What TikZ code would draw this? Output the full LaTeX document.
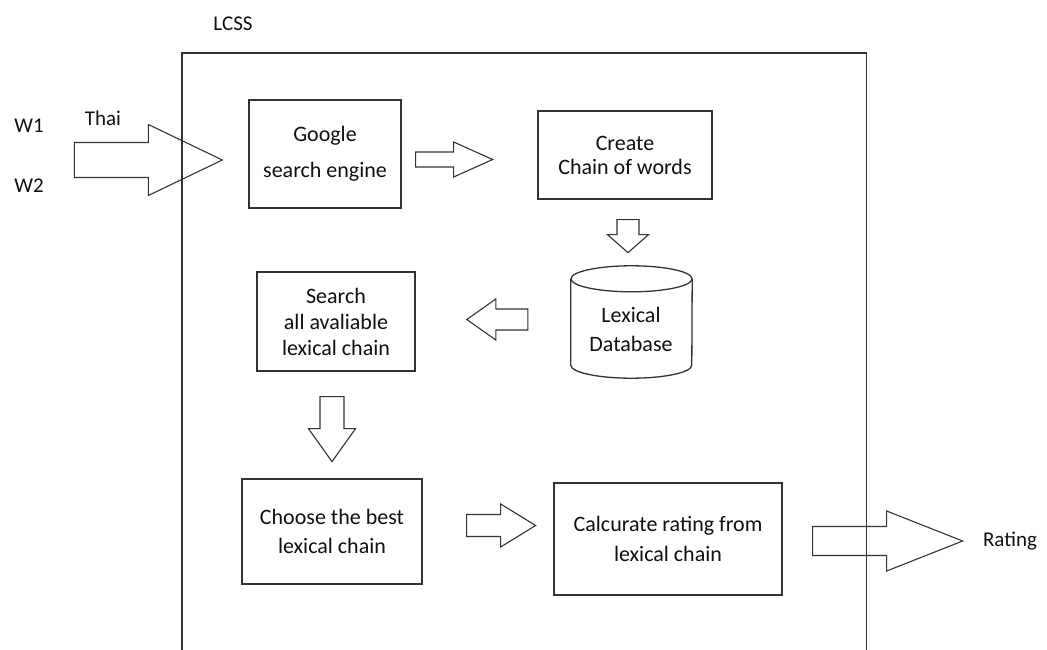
\documentclass[tikz,border=0pt]{standalone}
\usepackage{fontspec}
\setmainfont{Carlito}
\usetikzlibrary{calc}

% Block arrows: #1 tail point, #2 total length, #3 head length,
% #4 half shaft width, #5 half head width
\newcommand\blockright[5]{%
  \draw[blockarrow] (#1) ++(0,-#4) -- ++({#2-#3},0) -- ++(0,{#4-#5})
    -- ++(#3,#5) -- ++(-#3,#5) -- ++(0,{#4-#5}) -- ++({#3-#2},0) -- cycle;}
\newcommand\blockleft[5]{%
  \draw[blockarrow] (#1) ++(0,-#4) -- ++({#3-#2},0) -- ++(0,{#4-#5})
    -- ++(-#3,#5) -- ++(#3,#5) -- ++(0,{#4-#5}) -- ++({#2-#3},0) -- cycle;}
\newcommand\blockdown[5]{%
  \draw[blockarrow] (#1) ++(-#4,0) -- ++(0,{#2-#3}) -- ++({#4-#5},0)
    -- ++(#5,#3) -- ++(#5,-#3) -- ++({#4-#5},0) -- ++(0,{#3-#2}) -- cycle;}

\definecolor{ink}{HTML}{101010}
\definecolor{edge}{HTML}{333333}

\tikzset{
  stepbox/.style={draw=edge, line width=1.3pt, inner sep=0pt, align=center,
    text=ink, font=\fontsize{22}{29}\selectfont},
  blockarrow/.style={draw=edge, line width=1.1pt, line join=miter},
  label/.style={text=ink, inner sep=0pt, font=\fontsize{21}{25}\selectfont},
}

\begin{document}
\begin{tikzpicture}[x=1pt,y=-1pt]
\useasboundingbox (0,0) rectangle (1047,650);
\clip (0,0) rectangle (1047,650);
\fill[white] (0,0) rectangle (1047,650);

% LCSS system frame (open at the bottom)
\draw[edge, line width=1.3pt] (182,670) -- (182,53) -- (866.5,53) -- (866.5,670);
\node[label] (lcss) at (233,24) {LCSS};

% process boxes
\node[stepbox, minimum width=152, minimum height=108,
      font=\fontsize{22}{36}\selectfont] (google) at (325,154)
      {Google\\ search engine};
\node[stepbox, minimum width=174, minimum height=88,
      font=\fontsize{22}{24}\selectfont] (create) at (625,155)
      {Create\\Chain of words};
\node[stepbox, minimum width=158, minimum height=99,
      font=\fontsize{22}{26}\selectfont] (search) at (336,321.5)
      {Search\\ all avaliable\\ lexical chain};
\node[stepbox, minimum width=180, minimum height=105] (choose) at (332,531.5)
      {Choose the best\\lexical chain};
\node[stepbox, minimum width=228, minimum height=112,
      font=\fontsize{22}{30}\selectfont] (calc) at (668,539)
      {Calcurate rating from\\lexical chain};

% lexical database cylinder
\node[minimum width=121, minimum height=112, inner sep=0pt] (db) at (631.5,322) {};
\draw[edge, line width=1.3pt]
  ($(db.north west)+(0,13)$) -- ($(db.south west)+(0,-13)$)
  arc[start angle=180, end angle=360, x radius=60.5, y radius=-13]
  -- ($(db.north east)+(0,13)$);
\draw[edge, line width=1.3pt] ($(db.north)+(0,13)$) ellipse[x radius=60.5, y radius=13];
\node[stepbox, draw=none, font=\fontsize{22}{29}\selectfont] (dbtext) at (631,329)
      {Lexical\\Database};

% inputs and output labels
\node[label] (w1) at (29,126) {W1};
\node[label] (w2) at (29,186) {W2};
\node[label] (thai) at (103,118) {Thai};
\node[label] (rating) at (1010,541) {Rating};

% block-arrow tails, placed from the boxes they leave
\coordinate (in1) at ($(google.west)+(-174,6)$);
\coordinate (a1) at ($(google.east)+(14,5.5)$);
\coordinate (a2) at ($(create.south)+(3,20)$);
\coordinate (a3) at ($(db.west)+(-43,-2.5)$);
\coordinate (a4) at ($(search.south)+(-4,25)$);
\coordinate (a5) at ($(choose.east)+(44,-6)$);
\coordinate (a6) at ($(calc.east)+(30,2)$);

\blockright{in1}{148}{74}{17.5}{35.5}
\blockright{a1}{77}{39}{7.5}{17.5}
\blockdown{a2}{33}{18}{11}{20.5}
\blockleft{a3}{61}{29}{10.5}{20.5}
\blockdown{a4}{65}{33}{12}{23.5}
\blockright{a5}{69}{35}{11}{21.5}
\blockright{a6}{150}{76}{14.5}{30}
\end{tikzpicture}
\end{document}
